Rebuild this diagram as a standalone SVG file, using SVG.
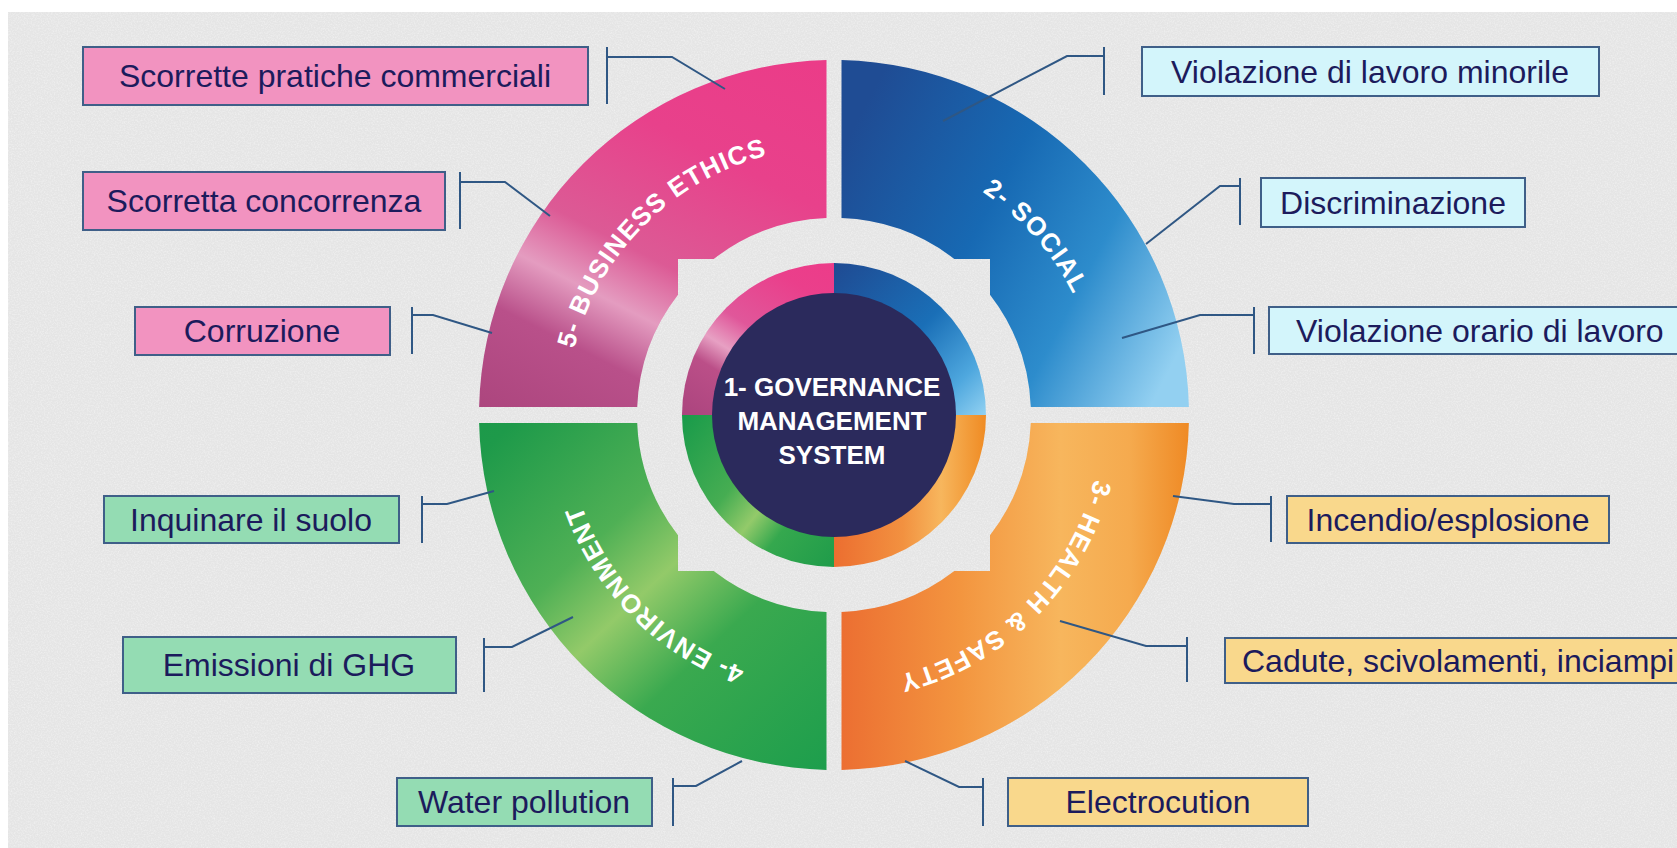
<svg xmlns="http://www.w3.org/2000/svg" width="1677" height="848" viewBox="0 0 1677 848">
<defs>
  <linearGradient id="gPinkOut" gradientUnits="userSpaceOnUse" x1="672.8" y1="731.3" x2="995.2" y2="98.7">
    <stop offset="0.25" stop-color="#a9437b"/>
    <stop offset="0.42" stop-color="#b9508a"/>
    <stop offset="0.50" stop-color="#e49cc0"/>
    <stop offset="0.58" stop-color="#dc5a95"/>
    <stop offset="0.75" stop-color="#e8418b"/>
    <stop offset="1" stop-color="#ec3a87"/>
  </linearGradient>
  <linearGradient id="gBlueOut" gradientUnits="userSpaceOnUse" x1="842" y1="150" x2="1190" y2="330">
    <stop offset="0" stop-color="#1f4c94"/>
    <stop offset="0.4" stop-color="#1769b3"/>
    <stop offset="0.7" stop-color="#2d8ccc"/>
    <stop offset="1" stop-color="#93d0f1"/>
  </linearGradient>
  <linearGradient id="gOrangeOut" gradientUnits="userSpaceOnUse" x1="842" y1="0" x2="1189" y2="0">
    <stop offset="0" stop-color="#ec6f32"/>
    <stop offset="0.34" stop-color="#f3953f"/>
    <stop offset="0.63" stop-color="#f7b65d"/>
    <stop offset="0.83" stop-color="#f5aa4e"/>
    <stop offset="1" stop-color="#ef8a25"/>
  </linearGradient>
  <linearGradient id="gGreenOut" gradientUnits="userSpaceOnUse" x1="1076" y1="674.5" x2="592" y2="155.5">
    <stop offset="0.1" stop-color="#189c4c"/>
    <stop offset="0.38" stop-color="#3aa94f"/>
    <stop offset="0.5" stop-color="#93ca69"/>
    <stop offset="0.6" stop-color="#4fb055"/>
    <stop offset="0.8" stop-color="#1e9a4a"/>
    <stop offset="1" stop-color="#16964a"/>
  </linearGradient>
  <linearGradient id="gPinkIn" gradientUnits="userSpaceOnUse" x1="753.4" y1="543.9" x2="914.6" y2="286.1">
    <stop offset="0.2" stop-color="#a8427c"/>
    <stop offset="0.42" stop-color="#bb4f88"/>
    <stop offset="0.5" stop-color="#e7a0c3"/>
    <stop offset="0.6" stop-color="#e0579a"/>
    <stop offset="0.8" stop-color="#ea3f8b"/>
    <stop offset="1" stop-color="#ee3a88"/>
  </linearGradient>
  <linearGradient id="gBlueIn" gradientUnits="userSpaceOnUse" x1="834" y1="262" x2="987" y2="415">
    <stop offset="0" stop-color="#1f4a92"/>
    <stop offset="0.5" stop-color="#1a6fb7"/>
    <stop offset="0.8" stop-color="#4ea7de"/>
    <stop offset="1" stop-color="#93d2f2"/>
  </linearGradient>
  <linearGradient id="gOrangeIn" gradientUnits="userSpaceOnUse" x1="834" y1="0" x2="987" y2="0">
    <stop offset="0" stop-color="#ec6e30"/>
    <stop offset="0.45" stop-color="#f29140"/>
    <stop offset="0.7" stop-color="#f7b65d"/>
    <stop offset="1" stop-color="#ef8a22"/>
  </linearGradient>
  <linearGradient id="gGreenIn" gradientUnits="userSpaceOnUse" x1="953.8" y1="508.6" x2="714.2" y2="321.4">
    <stop offset="0.1" stop-color="#159648"/>
    <stop offset="0.4" stop-color="#35a84e"/>
    <stop offset="0.5" stop-color="#93ca6a"/>
    <stop offset="0.62" stop-color="#46ad52"/>
    <stop offset="0.9" stop-color="#179a4a"/>
  </linearGradient>
  <filter id="grain" x="0" y="0" width="100%" height="100%">
    <feTurbulence type="fractalNoise" baseFrequency="0.7" numOctaves="2" seed="7"/>
    <feColorMatrix type="matrix" values="0 0 0 0 1  0 0 0 0 1  0 0 0 0 1  1.6 0 0 0 -0.65"/>
  </filter>
  <path id="arcBE" d="M575.1,484.4 A268,268 0 0 1 903.4,156.1"/>
  <path id="arcSO" d="M780.6,152.4 A268,268 0 0 1 1088.1,500"/>
  <path id="arcHS" d="M1092.9,345.6 A268,268 0 0 1 764.6,673.9"/>
  <path id="arcEN" d="M903.4,673.9 A268,268 0 0 1 575.1,345.6"/>
</defs>
<style>
  .lbl { font-family: "Liberation Sans", Arial, sans-serif; font-size: 32px; fill: #1c1b5c; }
  .mid { text-anchor: middle; }
  .ring-lbl { font-family: "Liberation Sans", Arial, sans-serif; font-size: 26px; font-weight: bold; fill: #ffffff; letter-spacing: 1.2px; }
  .center-lbl { font-family: "Liberation Sans", Arial, sans-serif; font-size: 26px; font-weight: bold; fill: #ffffff; text-anchor: middle; }
  .box { stroke: #3f5f88; stroke-width: 2; }
  .pink .box { fill: #f293c0; }
  .blue .box { fill: #d3f5fb; }
  .green .box { fill: #94dcb3; }
  .orange .box { fill: #f9d88c; }
  #connectors path { fill: none; stroke: #2f5784; stroke-width: 2; }
</style>

<g id="background">
  <rect x="0" y="0" width="1677" height="848" fill="#ffffff"/>
  <rect x="8" y="12" width="1669" height="836" fill="#e5e5e5"/>
  <rect x="8" y="12" width="1669" height="836" filter="url(#grain)" opacity="0.55"/>
</g>

<g id="ring-business-ethics">
  <path d="M479.1,407 A355,355 0 0 1 826.5,60.1 L826.5,218.1 A197,197 0 0 0 713.7,259 L678,259 L678,294.7 A197,197 0 0 0 637.2,407 Z" fill="url(#gPinkOut)"/>
  <text class="ring-lbl"><textPath href="#arcBE" startOffset="50%" text-anchor="middle">5- BUSINESS ETHICS</textPath></text>
</g>
<g id="ring-social">
  <path d="M841.5,60.1 A355,355 0 0 1 1188.9,407 L1030.8,407 A197,197 0 0 0 990,294.7 L990,259 L954.3,259 A197,197 0 0 0 841.5,218.1 Z" fill="url(#gBlueOut)"/>
  <text class="ring-lbl"><textPath href="#arcSO" startOffset="50%" text-anchor="middle">2- SOCIAL</textPath></text>
</g>
<g id="ring-health-safety">
  <path d="M1188.9,423 A355,355 0 0 1 841.5,769.9 L841.5,611.9 A197,197 0 0 0 954.3,571 L990,571 L990,535.3 A197,197 0 0 0 1030.8,423 Z" fill="url(#gOrangeOut)"/>
  <text class="ring-lbl"><textPath href="#arcHS" startOffset="50%" text-anchor="middle">3- HEALTH &amp; SAFETY</textPath></text>
</g>
<g id="ring-environment">
  <path d="M826.5,769.9 A355,355 0 0 1 479.1,423 L637.2,423 A197,197 0 0 0 678,535.3 L678,571 L713.7,571 A197,197 0 0 0 826.5,611.9 Z" fill="url(#gGreenOut)"/>
  <text class="ring-lbl"><textPath href="#arcEN" startOffset="50%" text-anchor="middle">4- ENVIRONMENT</textPath></text>
</g>

<g id="governance-core">
  <path d="M834,415 L682,415 A152,152 0 0 1 834,263 Z" fill="url(#gPinkIn)"/>
  <path d="M834,415 L834,263 A152,152 0 0 1 986,415 Z" fill="url(#gBlueIn)"/>
  <path d="M834,415 L986,415 A152,152 0 0 1 834,567 Z" fill="url(#gOrangeIn)"/>
  <path d="M834,415 L834,567 A152,152 0 0 1 682,415 Z" fill="url(#gGreenIn)"/>
  <circle cx="834" cy="415" r="122" fill="#2b2a5c"/>
  <text class="center-lbl" x="832" y="396">1- GOVERNANCE</text>
  <text class="center-lbl" x="832" y="430">MANAGEMENT</text>
  <text class="center-lbl" x="832" y="464">SYSTEM</text>
</g>

<g id="connectors">
  <path d="M607,47 V104 M607,57 L672,57 L725,89"/>
  <path d="M460,172 V229 M460,182 L505,182 L550,216"/>
  <path d="M412,307 V354 M412,315 L433,315 L492,333"/>
  <path d="M422,496 V543 M422,504 L447,504 L494,491"/>
  <path d="M484,638 V692 M484,647 L512,647 L573,617"/>
  <path d="M673,778 V826 M673,786 L696,786 L742,761"/>
  <path d="M1104,47 V95 M1104,56 L1067,56 L943,121"/>
  <path d="M1240,178 V225 M1240,186 L1220,186 L1146,244"/>
  <path d="M1254,307 V354 M1254,315 L1200,315 L1122,338"/>
  <path d="M1271,496 V542 M1271,504 L1234,504 L1173,496"/>
  <path d="M1187,637 V682 M1187,646 L1146,646 L1060,621"/>
  <path d="M983,778 V826 M983,787 L959,787 L905,761"/>
</g>

<g id="node-scorrette-pratiche" class="pink">
  <rect class="box" x="83" y="47" width="505" height="58"/>
  <text class="lbl mid" x="335" y="87">Scorrette pratiche commerciali</text>
</g>
<g id="node-scorretta-concorrenza" class="pink">
  <rect class="box" x="83" y="172" width="362" height="58"/>
  <text class="lbl mid" x="264" y="212">Scorretta concorrenza</text>
</g>
<g id="node-corruzione" class="pink">
  <rect class="box" x="135" y="307" width="255" height="48"/>
  <text class="lbl mid" x="262" y="342">Corruzione</text>
</g>
<g id="node-inquinare-suolo" class="green">
  <rect class="box" x="104" y="496" width="295" height="47"/>
  <text class="lbl mid" x="251" y="531">Inquinare il suolo</text>
</g>
<g id="node-emissioni-ghg" class="green">
  <rect class="box" x="123" y="637" width="333" height="56"/>
  <text class="lbl mid" x="289" y="676">Emissioni di GHG</text>
</g>
<g id="node-water-pollution" class="green">
  <rect class="box" x="397" y="778" width="255" height="48"/>
  <text class="lbl mid" x="524" y="813">Water pollution</text>
</g>
<g id="node-lavoro-minorile" class="blue">
  <rect class="box" x="1142" y="47" width="457" height="49"/>
  <text class="lbl mid" x="1370" y="83">Violazione di lavoro minorile</text>
</g>
<g id="node-discriminazione" class="blue">
  <rect class="box" x="1261" y="178" width="264" height="49"/>
  <text class="lbl mid" x="1393" y="214">Discriminazione</text>
</g>
<g id="node-orario-lavoro" class="blue">
  <rect class="box" x="1269" y="307" width="430" height="47"/>
  <text class="lbl" x="1296" y="342">Violazione orario di lavoro</text>
</g>
<g id="node-incendio" class="orange">
  <rect class="box" x="1287" y="496" width="322" height="47"/>
  <text class="lbl mid" x="1448" y="531">Incendio/esplosione</text>
</g>
<g id="node-cadute" class="orange">
  <rect class="box" x="1225" y="638" width="480" height="45"/>
  <text class="lbl" x="1242" y="672">Cadute, scivolamenti, inciampi</text>
</g>
<g id="node-electrocution" class="orange">
  <rect class="box" x="1008" y="778" width="300" height="48"/>
  <text class="lbl mid" x="1158" y="813">Electrocution</text>
</g>
</svg>
